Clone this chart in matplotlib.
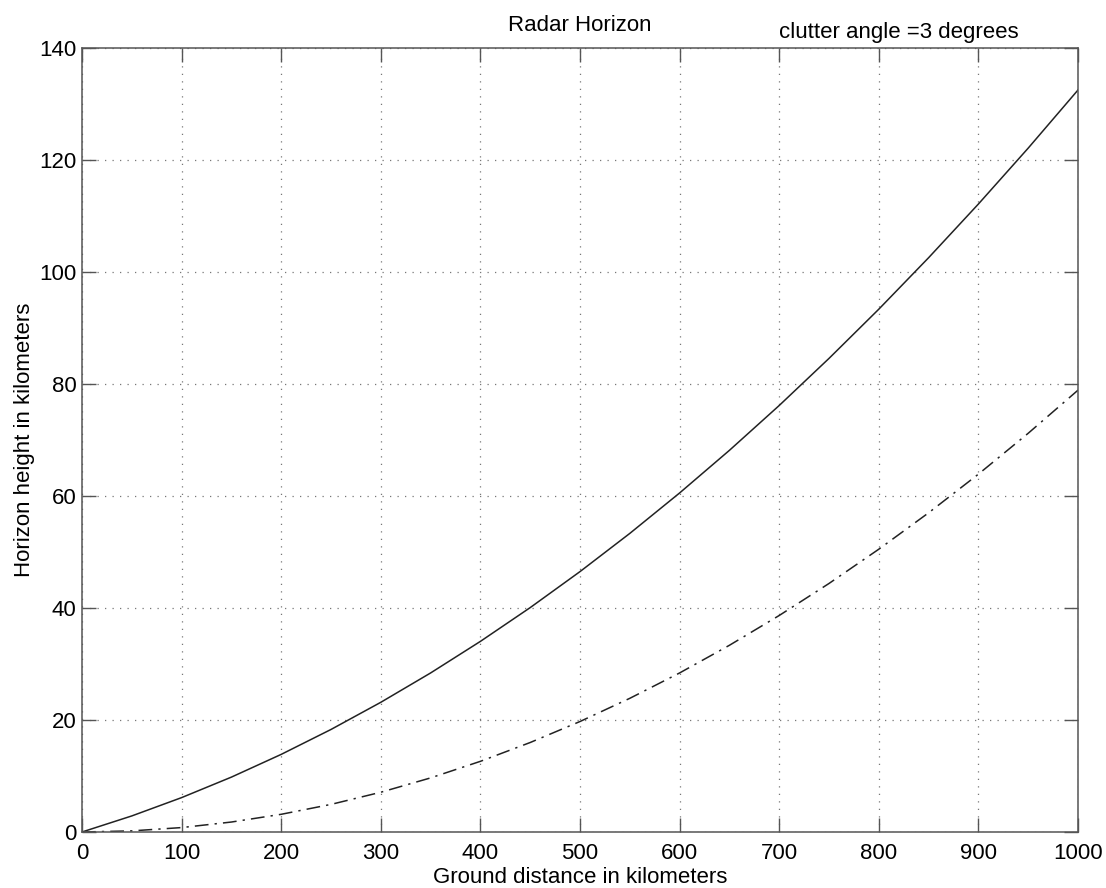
import numpy as np
import matplotlib.pyplot as plt

plt.rcParams['font.family'] = ['Liberation Sans', 'DejaVu Sans']

# ground distance (km)
distance = [0, 50, 100, 150, 200, 250, 300, 350, 400, 450, 500,
            550, 600, 650, 700, 750, 800, 850, 900, 950, 1000]
# horizon height, solid curve (km)
height_solid = [0, 2.87, 6.14, 9.80, 13.86, 18.31, 23.16, 28.40, 34.04, 40.07, 46.50,
                53.32, 60.54, 68.15, 76.16, 84.57, 93.36, 102.55, 112.14, 122.12, 132.5]
# horizon height, dash-dot curve (km)
height_dashdot = [0, 0.20, 0.79, 1.78, 3.16, 4.93, 7.10, 9.66, 12.62, 15.98, 19.73,
                  23.87, 28.40, 33.34, 38.66, 44.38, 50.50, 57.0, 63.9, 71.2, 78.9]

fig = plt.figure(figsize=(11.06, 8.88), dpi=100)
ax = fig.add_axes([82/1106, 1 - 832/888, (1078-82)/1106, (832-48)/888])

ax.plot(distance, height_solid, '-', color='#222222', lw=1.1)
ax.plot(distance, height_dashdot, color='#222222', lw=1.1,
        linestyle=(0, (9, 4, 1.5, 4)))

ax.set_xlim(0, 1000)
ax.set_ylim(0, 140)
ax.set_xticks(np.arange(0, 1001, 100))
ax.set_yticks(np.arange(0, 141, 20))
ax.grid(True, linestyle=(0, (1, 5)), color='#777777', lw=0.9)
ax.tick_params(direction='in', length=10, width=1, labelsize=16,
               top=True, right=True, color='#555555', pad=4)
ax.tick_params(axis='x', pad=8)
for s in ax.spines.values():
    s.set_color('#555555')
    s.set_linewidth(1.1)

ax.set_xlabel('Ground distance in kilometers', fontsize=16, labelpad=2)
ax.set_ylabel('Horizon height in kilometers', fontsize=16, labelpad=3)
ax.set_title('Radar Horizon', fontsize=16, pad=12)
ax.text(700, 142.7, 'clutter angle =3 degrees', fontsize=16, va='center',
        ha='left')

fig.savefig('out.png', dpi=100)
